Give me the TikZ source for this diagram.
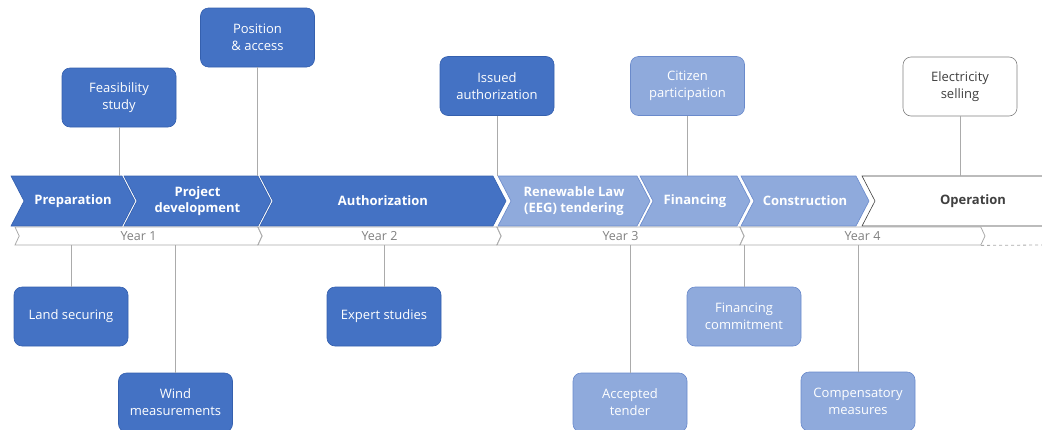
\documentclass[tikz,border=0pt]{standalone}
\usepackage{fontspec}
\setmainfont{Open Sans}
\usetikzlibrary{shapes.symbols}
\definecolor{dkblue}{HTML}{4472C4}
\definecolor{dkedge}{HTML}{3560AE}
\definecolor{ltblue}{HTML}{8FAADC}
\definecolor{ltedge}{HTML}{6A8ACB}
\definecolor{linegray}{HTML}{ABABAB}
\definecolor{yeargray}{HTML}{808080}
\definecolor{opedge}{HTML}{404040}
\tikzstyle{phase}=[signal, signal from=west, signal to=east, signal pointer angle=125, minimum height=50, inner sep=0, align=center, font=\fontsize{13}{15.5}\selectfont\bfseries, text=white, fill=dkblue, draw=dkedge, line width=.6pt]
\tikzstyle{late}=[fill=ltblue, draw=ltedge]
\tikzstyle{yr}=[signal, signal from=west, signal to=east, signal pointer angle=130, minimum height=18, inner sep=0, font=\fontsize{12.5}{14}\selectfont, text=yeargray, fill=white, draw=linegray, line width=.8pt]
\tikzstyle{box}=[rectangle, rounded corners=8, minimum width=114, minimum height=59, inner sep=0, align=center, font=\fontsize{13}{17}\selectfont, text=white, fill=dkblue, draw=dkedge, line width=.6pt]
\tikzstyle{conn}=[draw=linegray, line width=1pt]

\begin{document}
\begin{tikzpicture}[x=1pt, y=-1pt]
\useasboundingbox (0,0) rectangle (1042,429);
\node at (73,201)[phase, minimum width=124](prep){Preparation};
\node at (197.5,201)[phase, minimum width=147](proj){Project\\development};
\node at (383,201)[phase, minimum width=246](auth){Authorization};
\node at (574,201)[phase, late, minimum width=152](eeg){Renewable Law\\(EEG) tendering};
\node at (695,201)[phase, late, minimum width=110](fin){Financing};
\node at (805,201)[phase, late, minimum width=128](cons){Construction};
\node at (973,201)[phase, minimum width=222, fill=white, draw=opedge, text=opedge](oper){Operation};
\foreach \x/\w/\n in {138.5/247/1, 379.5/243/2, 620.5/247/3, 862.5/245/4}
  {\node at (\x,236)[yr, minimum width=\w](yr\n){Year \n};}
\coordinate (yrend) at (1042,245);
\draw[linegray, line width=.8pt, dashed] (yr4.south east) -- (yrend);
\node at (119,97.5)[box](feas){Feasibility\\study};
\node at (257.5,37.5)[box](pos){Position\\\& access};
\node at (497,86)[box](iss){Issued\\authorization};
\node at (687.5,86)[box, late](cit){Citizen\\participation};
\node at (960,86.5)[box, fill=white, draw=yeargray, text=opedge](elec){Electricity\\selling};
\node at (71,316.5)[box](land){Land securing};
\node at (175.5,402.5)[box](wind){Wind\\measurements};
\node at (384,316.5)[box](exp){Expert studies};
\node at (630,402.5)[box, late](acc){Accepted\\tender};
\node at (744,316.5)[box, late](fcom){Financing\\commitment};
\node at (858,401.5)[box, late](comp){Compensatory\\measures};
\foreach \b/\p in {feas/prep, pos/proj, iss/auth, cit/fin, elec/oper}
  {\draw[conn] (\b.south) -- (\b.south |- \p.north);}
\foreach \b/\y in {land/yr1, wind/yr1, exp/yr2, acc/yr3, fcom/yr4, comp/yr4}
  {\draw[conn] (\b.north) -- (\b.north |- \y.south);}
\end{tikzpicture}
\end{document}
